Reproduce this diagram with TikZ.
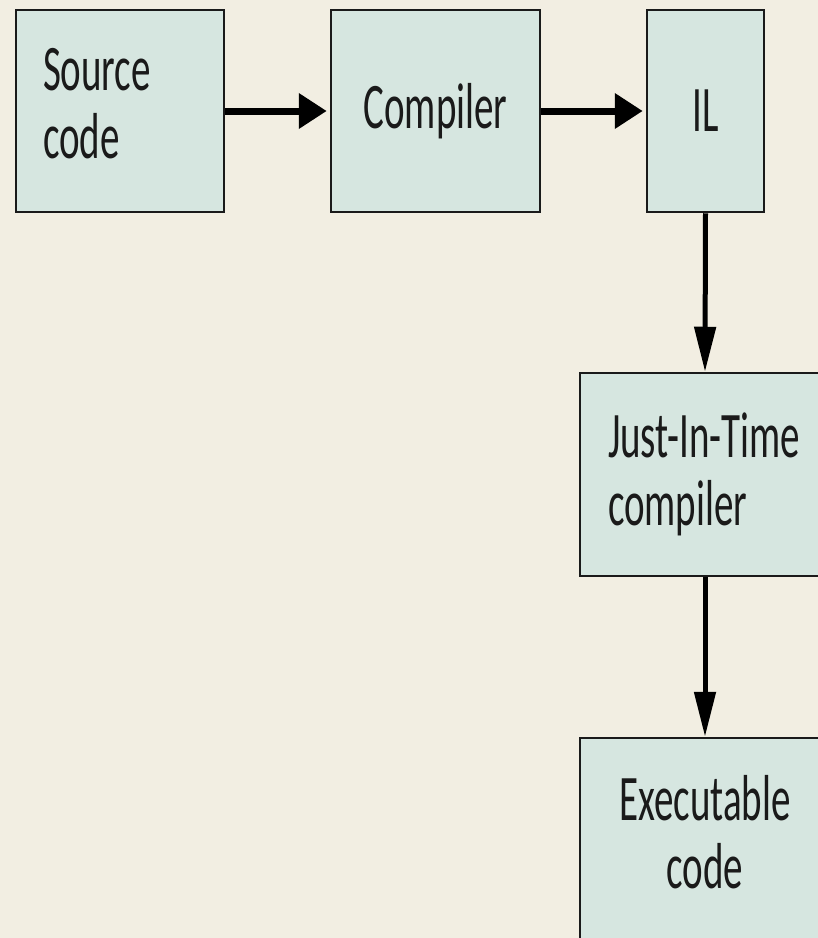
\documentclass[tikz,border=0pt]{standalone}
\usepackage{fontspec}
\setmainfont{Carlito}[FakeStretch=0.6]
\usetikzlibrary{arrows.meta}
\definecolor{paper}{HTML}{F2EEE2}
\definecolor{boxfill}{HTML}{D6E6E0}
\definecolor{ink}{HTML}{1A1A1A}
\tikzset{
  stage/.style={draw=ink, fill=boxfill, line width=2.5pt, inner ysep=0pt,
    font=\fontsize{65}{68}\selectfont, text=ink},
  hflow/.style={line width=7pt, draw=black,
    -{Triangle[length=28pt,width=34pt]}, shorten >=3pt},
  vflow/.style={line width=5pt, draw=black,
    -{Triangle[length=45pt,width=21pt]}},
}
\begin{document}
\begin{tikzpicture}[x=1pt,y=-1pt]
  \fill[paper] (0,0) rectangle (818,938);
  \useasboundingbox (0,0) rectangle (818,938);

  % two-line labels sit a little above the box centre
  \node[stage, inner xsep=27pt, text width=154pt, align=left,
        minimum height=202pt, text depth=84pt] (src) at (120,111) {Source\\code};
  \node[stage, minimum width=209pt, minimum height=202pt, align=center]
        (comp) at (435.5,111) {Compiler};
  \node[stage, minimum width=117pt, minimum height=202pt, align=center]
        (il) at (705.5,111) {IL};
  \node[stage, inner xsep=28pt, text width=194pt, align=left,
        minimum height=203pt] (jit) at (705,474.5) {Just-In-Time\\compiler};
  \node[stage, inner xsep=28pt, text width=194pt, align=center,
        minimum height=203pt, text depth=84pt] (exe) at (705,839.5) {Executable\\code};

  \draw[hflow] (src.east) -- (comp.west);
  \draw[hflow] (comp.east) -- (il.west);
  \draw[vflow] (il.south) -- (jit.north);
  \draw[vflow] (jit.south) -- (exe.north);
\end{tikzpicture}
\end{document}
